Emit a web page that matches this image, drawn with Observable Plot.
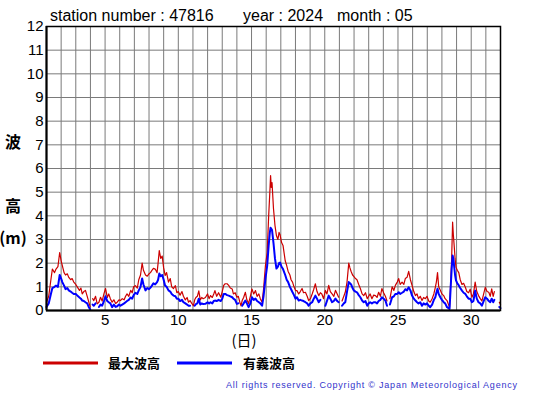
<!DOCTYPE html>
<html>
<head>
<meta charset="utf-8">
<script src="https://cdn.jsdelivr.net/npm/d3@7"></script>
<script src="https://cdn.jsdelivr.net/npm/@observablehq/plot@0.6"></script>
<style>
  html, body { margin: 0; padding: 0; background: #fff; }
  #chart svg { display: block; }
</style>
</head>
<body>
<div id="chart"></div>
<script>
const titleParts = ["station number : 47816", "year : 2024", "month : 05"];
const yTicks = [0,1,2,3,4,5,6,7,8,9,10,11,12];
const xTicks = [5,10,15,20,25,30];
const seriesNames = ["最大波高", "有義波高"];
const yLabelChars = ["波", "高", "(m)"];
const xLabel = "(日)";
const copyright = "All rights reserved. Copyright © Japan Meteorological Agency";

const days = [
1.00,1.15,1.30,1.40,1.55,1.65,1.78,1.90,2.00,2.08,2.20,2.30,2.42,2.52,2.65,2.75,2.86,3.00,3.10,3.25,3.35,3.44,3.55,3.66,3.78,3.89,3.98,4.05,4.15,4.23,4.35,4.46,4.58,4.69,4.80,4.92,
5.03,5.15,5.25,5.36,5.48,5.60,5.72,5.83,5.95,6.05,6.17,6.30,6.40,6.50,6.62,6.75,6.85,6.95,7.07,7.20,7.30,7.42,7.53,7.62,7.76,7.88,8.00,8.10,8.20,8.30,8.42,8.55,8.62,8.70,8.80,8.90,
9.00,9.10,9.20,9.33,9.45,9.55,9.67,9.80,9.90,10.00,10.12,10.25,10.35,10.48,10.60,10.70,10.80,10.92,11.03,11.12,11.20,11.30,11.40,11.50,11.60,11.70,11.85,12.00,12.10,12.20,12.32,12.42,12.50,12.62,12.75,12.90,
13.00,13.10,13.20,13.33,13.44,13.55,13.68,13.76,13.88,14.00,14.10,14.20,14.28,14.36,14.46,14.58,14.68,14.80,14.92,15.03,15.15,15.27,15.38,15.50,15.60,15.72,15.82,15.95,16.07,16.17,16.25,16.30,16.35,16.40,16.50,16.60,16.70,16.80,16.88,16.95,
17.05,17.15,17.30,17.40,17.50,17.62,17.70,17.80,17.90,18.00,18.10,18.22,18.33,18.45,18.55,18.68,18.80,18.90,19.02,19.14,19.25,19.36,19.47,19.59,19.70,19.80,19.92,20.04,20.15,20.27,20.38,20.50,20.62,20.73,20.85,20.95,
21.08,21.18,21.30,21.40,21.52,21.64,21.72,21.80,21.90,21.98,22.10,22.20,22.32,22.43,22.55,22.66,22.78,22.90,23.00,23.10,23.22,23.34,23.46,23.57,23.68,23.80,23.90,24.02,24.14,24.25,24.32,24.45,24.60,24.72,24.82,24.95,
25.05,25.15,25.28,25.40,25.50,25.62,25.73,25.85,25.96,26.08,26.19,26.30,26.40,26.52,26.64,26.75,26.87,26.98,27.10,27.20,27.33,27.45,27.55,27.62,27.70,27.78,27.90,28.00,28.12,28.22,28.35,28.45,28.52,28.60,28.66,28.73,28.78,28.83,28.90,28.96,
29.05,29.15,29.25,29.37,29.48,29.60,29.70,29.82,29.93,30.05,30.15,30.27,30.38,30.50,30.62,30.73,30.85,30.96,31.08,31.20,31.30,31.40,31.50,31.58,31.70,31.92,32.00
];

const maxWave = [
0.35,0.6,1.3,1.75,1.6,1.75,1.85,2.45,2.1,1.9,1.6,1.5,1.55,1.4,1.3,1.35,1.2,1.1,1.0,0.85,0.95,0.7,0.8,0.85,0.6,0.35,0.15,null,0.5,0.42,0.6,0.28,0.35,0.56,0.4,0.7,
0.93,0.55,0.7,0.5,0.35,0.45,0.3,0.35,0.45,0.42,0.5,0.45,0.6,0.7,0.6,0.85,0.75,1.0,1.05,0.95,1.3,1.5,2.0,1.7,1.5,1.45,1.55,1.6,1.7,1.78,1.75,1.6,2.0,2.53,2.2,2.3,
1.8,1.48,1.6,1.2,1.35,1.0,0.93,1.05,0.75,0.8,0.65,0.8,0.6,0.45,0.55,0.35,0.42,0.3,0.2,0.45,0.55,0.6,0.83,0.45,0.55,0.5,0.55,0.7,0.5,0.63,0.55,0.7,0.84,0.6,0.75,0.56,
0.8,1.06,1.13,1.13,1.06,0.95,0.91,0.7,0.75,0.56,0.6,0.35,0.2,0.42,0.55,0.77,0.45,0.3,0.6,0.91,0.7,0.84,0.6,0.7,0.5,0.35,0.9,1.9,2.45,4.0,5.0,5.7,5.2,5.4,4.3,3.6,3.17,3.0,3.3,3.2,
2.87,2.75,2.1,1.9,1.65,1.5,1.3,1.2,1.0,0.85,0.84,0.7,0.8,0.93,0.75,0.77,0.6,0.42,0.5,0.7,0.9,1.13,0.8,0.63,0.75,0.7,0.5,0.85,0.7,1.06,0.8,0.7,0.6,0.85,0.7,0.56,
null,0.4,0.6,0.77,1.2,2.0,1.8,1.65,1.5,1.44,1.35,1.3,1.1,0.93,0.7,0.63,0.75,0.5,0.6,0.7,0.5,0.65,0.63,0.55,0.77,0.6,0.93,0.75,0.6,0.4,null,0.5,1.0,0.85,1.06,1.2,
1.35,1.1,1.2,1.1,1.35,1.4,1.65,1.3,1.06,0.8,0.63,0.7,0.5,0.6,0.42,0.55,0.5,0.6,0.4,0.35,0.5,0.7,0.98,1.2,1.6,1.0,0.84,0.7,0.63,0.5,0.42,0.25,0.14,1.2,2.1,3.73,3.2,2.8,2.2,1.83,
1.7,1.6,1.3,1.1,1.15,0.98,0.8,0.75,0.9,0.56,0.7,1.2,0.8,0.63,0.5,0.4,0.7,0.98,0.8,0.77,0.6,0.91,0.6,0.8,null,0.35,0.25
];

const sigWave = [
0.15,0.3,0.7,0.95,1.0,1.05,1.0,1.5,1.35,1.2,1.05,0.9,0.95,0.85,0.8,0.75,0.7,0.7,0.63,0.55,0.5,0.42,0.4,0.35,0.3,0.14,0.05,null,0.25,0.2,0.3,null,0.15,0.25,0.2,0.4,
0.6,0.4,0.35,0.3,0.14,0.25,0.15,0.18,0.25,0.2,0.25,0.3,0.35,0.4,0.45,0.55,0.5,0.65,0.75,0.7,0.85,1.0,1.35,1.1,0.85,0.95,0.9,0.97,1.05,1.15,1.1,1.2,1.3,1.56,1.45,1.5,
1.3,1.05,1.0,0.85,0.8,0.7,0.63,0.6,0.5,0.5,0.4,0.45,0.35,0.3,0.25,0.2,0.2,null,null,0.2,0.27,0.3,0.5,0.25,0.3,0.27,0.28,0.35,0.3,0.35,0.3,0.4,0.42,0.4,0.45,0.4,
0.5,0.7,0.7,0.65,0.63,0.6,0.56,0.5,0.45,0.28,0.3,null,null,0.2,0.3,0.42,0.3,0.14,0.3,0.56,0.45,0.5,0.4,0.35,0.3,0.2,0.6,1.35,1.9,2.75,3.3,3.5,3.45,3.4,2.85,2.2,1.77,1.85,2.0,2.03,
1.85,1.75,1.5,1.3,1.2,1.0,0.9,0.77,0.65,0.5,0.56,0.42,0.45,0.42,0.4,0.35,0.3,0.2,0.3,0.35,0.5,0.63,0.5,0.35,0.45,null,null,0.2,0.4,0.63,0.5,0.35,0.4,0.5,0.4,0.35,
null,0.2,0.3,0.35,0.8,1.2,1.15,1.1,0.95,0.85,0.8,0.77,0.65,0.56,0.42,0.35,0.4,0.2,0.3,0.35,0.3,0.35,0.35,0.3,0.4,0.45,0.56,0.5,0.42,0.2,null,0.25,0.56,0.6,0.7,0.7,
0.77,0.7,0.75,0.8,0.9,0.85,0.98,0.85,0.63,0.5,0.42,0.35,0.3,0.35,0.2,0.3,0.25,0.3,0.2,0.14,0.25,0.45,0.56,0.75,0.92,0.7,0.55,0.45,0.35,0.3,0.14,0.1,0.07,1.0,1.7,2.32,2.2,1.9,1.5,1.27,
1.15,1.06,0.95,0.84,0.75,0.7,0.6,0.5,0.5,0.35,0.4,0.84,0.5,0.35,0.3,0.2,0.4,0.56,0.5,0.4,0.35,0.5,0.35,0.45,null,0.15,0.1
];

const data = days.map((t, i) => ({t, max: maxWave[i], sig: sigWave[i]}));

const W = 555, H = 395;
const chart = Plot.plot({
  width: W, height: H,
  marginLeft: 46, marginRight: 55, marginTop: 26, marginBottom: 85,
  style: {fontFamily: "'Liberation Sans', Arial, sans-serif", fontSize: "15px", background: "#fff", color: "#000"},
  x: {domain: [1, 32], ticks: xTicks, tickSize: 0, tickPadding: 4, label: null},
  y: {domain: [0, 12], ticks: yTicks, tickSize: 0, tickPadding: 3, label: null},
  marks: [
    Plot.gridX(d3.range(1, 33), {stroke: "#7a7a7a", strokeOpacity: 1, strokeWidth: 1}),
    Plot.gridY(yTicks, {stroke: "#7a7a7a", strokeOpacity: 1, strokeWidth: 1}),
    Plot.line(data, {x: "t", y: "max", stroke: "#cc0000", strokeWidth: 1.2}),
    Plot.line(data, {x: "t", y: "sig", stroke: "#0000ff", strokeWidth: 2}),
    Plot.frame({stroke: "#000", strokeWidth: 1.5}),
    Plot.ruleX([1], {stroke: "#000", strokeWidth: 2}),
    Plot.ruleY([0], {stroke: "#000", strokeWidth: 2}),
    Plot.axisX({ticks: xTicks, tickSize: 0, tickPadding: 4, label: null}),
    Plot.axisY({ticks: yTicks, tickSize: 0, tickPadding: 3, label: null})
  ]
});
document.getElementById("chart").appendChild(chart);

const svg = d3.select(chart);
const font = "'Liberation Sans', Arial, sans-serif";
const cjk = "'Noto Sans CJK JP', 'Noto Sans CJK SC', sans-serif";
const titleX = [50, 243, 337];
titleParts.forEach((s, i) => {
  svg.append("text").attr("x", titleX[i]).attr("y", 21).attr("text-anchor", "start")
    .attr("font-family", font).attr("font-size", 16).attr("fill", "#000").text(s);
});
const yLabY = [148, 212, 244];
yLabelChars.forEach((s, i) => {
  svg.append("text").attr("x", 13).attr("y", yLabY[i]).attr("text-anchor", "middle")
    .attr("font-family", cjk).attr("font-weight", "bold").attr("font-size", 16).attr("fill", "#000").text(s);
});
svg.append("text").attr("x", 244).attr("y", 346).attr("text-anchor", "middle")
  .attr("font-family", cjk).attr("font-size", 15).attr("fill", "#000").text(xLabel);

const legendColors = ["#cc0000", "#0000ff"];
const legLineX = [43, 177], legTextX = [108, 243];
seriesNames.forEach((s, i) => {
  svg.append("line").attr("x1", legLineX[i]).attr("x2", legLineX[i] + 55)
    .attr("y1", 363).attr("y2", 363).attr("stroke", legendColors[i]).attr("stroke-width", 3);
  svg.append("text").attr("x", legTextX[i]).attr("y", 368).attr("text-anchor", "start")
    .attr("font-family", cjk).attr("font-weight", "bold").attr("font-size", 13).attr("fill", "#000").text(s);
});
svg.append("text").attr("x", 226).attr("y", 388).attr("text-anchor", "start").attr("font-family", font)
  .attr("font-size", 9).attr("fill", "#3333cc").attr("textLength", 291)
  .attr("lengthAdjust", "spacing").text(copyright);
</script>
</body>
</html>
